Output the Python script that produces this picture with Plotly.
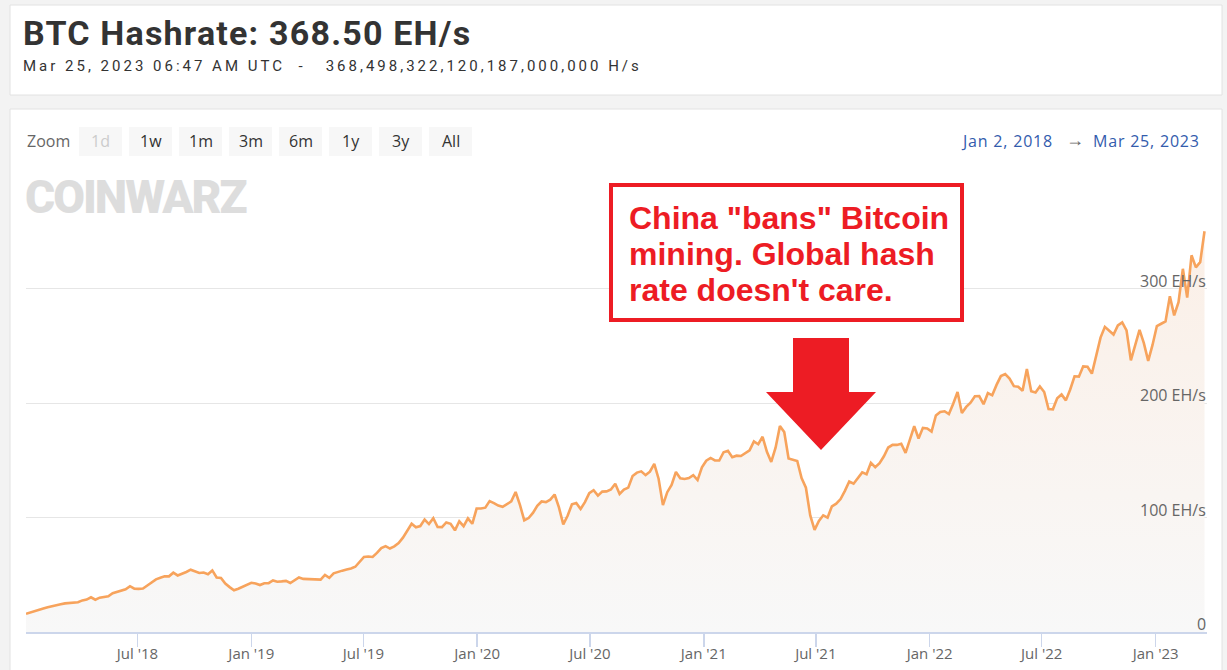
import plotly.graph_objects as go
import pandas as pd

# ---------------- data ----------------
start_date = "2018-01-02"
end_date = "2023-03-25"

# weekly BTC hash rate, EH/s
hashrate_ehs = [
    15.9, 17.1, 18.8, 19.9, 20.6, 21.7, 22.7, 23.5, 24.2, 25.0,
    25.4, 25.6, 26.0, 27.6, 28.3, 30.3, 28.2, 30.0, 30.7, 31.2,
    33.8, 35.1, 36.3, 37.3, 40.0, 37.8, 37.7, 38.0, 40.6, 43.5,
    46.0, 47.4, 48.6, 48.6, 51.8, 49.4, 50.7, 52.4, 54.4, 53.0,
    51.5, 52.0, 50.5, 53.8, 47.6, 47.1, 42.3, 39.2, 36.5, 37.8,
    39.5, 41.2, 43.0, 42.4, 41.0, 42.6, 42.7, 45.0, 43.9, 44.2,
    44.6, 42.8, 45.2, 47.6, 46.4, 46.1, 46.0, 45.8, 45.7, 49.8,
    47.3, 51.2, 52.7, 53.6, 54.5, 55.4, 57.0, 61.6, 65.6, 65.9,
    65.5, 69.1, 73.2, 75.0, 72.9, 74.8, 77.7, 82.4, 88.7, 94.5,
    91.4, 92.5, 98.2, 94.3, 99.4, 91.7, 91.6, 95.7, 94.5, 88.8,
    96.7, 92.4, 99.2, 94.5, 107.8, 107.8, 108.6, 114.3, 112.5, 110.4,
    109.3, 111.5, 114.1, 122.3, 111.0, 97.5, 99.5, 104.0, 110.2, 114.0,
    113.5, 115.6, 120.1, 108.8, 94.0, 101.5, 111.5, 112.7, 107.4, 113.4,
    121.3, 123.8, 119.1, 122.6, 122.8, 124.4, 129.5, 120.5, 124.4, 126.1,
    136.2, 139.2, 140.3, 137.0, 140.0, 146.9, 133.9, 110.8, 122.1, 128.5,
    139.7, 134.2, 133.6, 134.4, 137.0, 132.7, 143.8, 149.6, 152.0, 149.8,
    149.8, 157.0, 158.2, 152.6, 154.0, 153.7, 156.0, 158.7, 166.5, 164.0,
    170.5, 157.4, 148.5, 161.0, 179.8, 174.6, 151.5, 150.7, 149.4, 134.5,
    126.0, 101.8, 89.2, 97.0, 101.9, 99.9, 109.8, 112.1, 116.1, 123.3,
    131.4, 129.5, 134.0, 139.4, 137.8, 147.7, 144.0, 147.5, 153.5, 161.1,
    163.4, 163.4, 164.4, 156.4, 168.0, 179.7, 169.0, 178.3, 177.8, 175.1,
    189.1, 192.2, 192.8, 190.3, 199.3, 209.6, 191.2, 196.6, 200.3, 205.9,
    206.1, 199.0, 208.6, 206.7, 215.8, 223.5, 225.2, 221.4, 214.7, 214.2,
    210.7, 229.8, 210.2, 209.1, 214.4, 209.6, 194.7, 194.5, 204.2, 207.5,
    202.3, 211.8, 223.3, 223.0, 232.0, 231.7, 225.6, 241.0, 257.1, 266.5,
    263.5, 259.8, 267.8, 270.4, 263.4, 237.3, 250.5, 263.8, 252.3, 236.8,
    250.7, 267.2, 269.2, 271.2, 293.3, 276.5, 288.0, 317.2, 292.0, 329.0,
    318.4, 323.0, 350.0,
]

y_tick_vals = [0, 100, 200, 300, 400]
y_tick_text = ["0", "100 EH/s", "200 EH/s", "300 EH/s", ""]
zoom_buttons = ["1d", "1w", "1m", "3m", "6m", "1y", "3y", "All"]
disabled_buttons = ["1d"]
title_text = "BTC Hashrate: 368.50 EH/s"
subtitle_time = "Mar 25, 2023 06:47 AM UTC"
subtitle_value = "368,498,322,120,187,000,000 H/s"
range_from = "Jan 2, 2018"
range_to = "Mar 25, 2023"
note_lines = ['China "bans" Bitcoin', "mining. Global hash", "rate doesn't care."]
logo_text = "COINWARZ"

dates = pd.date_range(start_date, periods=len(hashrate_ehs), freq="7D")

# ---------------- layout helpers (pixel -> paper) ----------------
W, H = 1227, 670
L, R, T, B = 26, 1207, 174, 632


def px(x):
    return (x - L) / (R - L)


def py(y):
    return (B - y) / (B - T)


RED = "#ed1c24"

fig = go.Figure(
    go.Scatter(
        x=dates,
        y=hashrate_ehs,
        mode="lines",
        line=dict(color="#f7a35c", width=2.6),
        fill="tozeroy",
        fillgradient=dict(
            type="vertical",
            colorscale=[[0, "#f8f8f8"], [1, "#fbefe6"]],
            start=0,
            stop=360,
        ),
        hoverinfo="skip",
        showlegend=False,
    )
)

shapes = []
# cards
shapes.append(dict(type="rect", xref="paper", yref="paper", x0=px(10), x1=px(1222),
                   y0=py(95), y1=py(5), fillcolor="white",
                   line=dict(color="#e2e2e2", width=1), layer="below"))
shapes.append(dict(type="rect", xref="paper", yref="paper", x0=px(10), x1=px(1222),
                   y0=py(720), y1=py(109), fillcolor="white",
                   line=dict(color="#e2e2e2", width=1), layer="below"))
# range selector buttons
for i, b in enumerate(zoom_buttons):
    x0 = 79 + 50 * i
    shapes.append(dict(type="rect", xref="paper", yref="paper", x0=px(x0), x1=px(x0 + 43),
                       y0=py(156), y1=py(127), fillcolor="#f7f7f7",
                       line=dict(width=0), layer="below"))
# note box
shapes.append(dict(type="rect", xref="paper", yref="paper", x0=px(611), x1=px(962),
                   y0=py(320), y1=py(185), fillcolor="white",
                   line=dict(color=RED, width=4), layer="above"))
# red arrow
arrow_pts = [(793, 338), (849, 338), (849, 392), (876, 392), (821, 450), (766, 392), (793, 392)]
path = "M " + " L ".join(f"{px(a):.5f},{py(b):.5f}" for a, b in arrow_pts) + " Z"
shapes.append(dict(type="path", xref="paper", yref="paper", path=path,
                   fillcolor=RED, line=dict(width=0), layer="above"))


def label(x, y, text, size, color, family="Open Sans", xanchor="left", weight=400):
    fig.add_annotation(x=px(x), y=py(y), xref="paper", yref="paper", text=text,
                       showarrow=False, xanchor=xanchor, yanchor="middle",
                       font=dict(family=family, size=size, color=color, weight=weight))


def spaced(text, sp):
    return f'<span style="letter-spacing:{sp}px">{text}</span>'


label(21, 33, spaced(title_text, 1.2), 34, "#333333", "Roboto", weight=700)
label(21, 66, spaced(f"{subtitle_time}  -   {subtitle_value}", 3), 15, "#333333",
      "Roboto", weight=400)

label(25, 141, "Zoom", 16, "#666666")
for i, b in enumerate(zoom_buttons):
    x0 = 79 + 50 * i
    label(x0 + 21.5, 141, b, 16, "#cccccc" if b in disabled_buttons else "#333333",
          xanchor="center")
label(1055, 141, spaced(range_from, 0.8), 16, "#335cad", xanchor="right")
label(1075, 139, "→", 18, "#666666", xanchor="center")
label(1202, 141, spaced(range_to, 0.8), 16, "#335cad", xanchor="right")

label(23, 197, spaced(logo_text, -2), 46, "#dddddd", "Roboto", weight=900)

for k, line in enumerate(note_lines):
    label(627, 218 + 36 * k, line, 32, RED, "Liberation Sans", weight=700)

# y-axis labels, placed inside the plot on the right, just above each gridline
for v, t in zip(y_tick_vals, y_tick_text):
    if t:
        fig.add_annotation(x=1, y=v, xref="paper", yref="y", text=t, showarrow=False,
                           xanchor="right", yanchor="middle", yshift=8, xshift=1,
                           font=dict(family="Open Sans", size=16, color="#666666"))

fig.update_layout(
    width=W, height=H, autosize=False,
    margin=dict(l=L, r=W - R, t=T, b=H - B, pad=0),
    paper_bgcolor="#f3f3f3",
    plot_bgcolor="white",
    shapes=shapes,
    hovermode=False,
    xaxis=dict(
        type="date", range=[start_date, end_date],
        tick0="2018-01-01", dtick="M6", tickformat="%b '%y",
        showgrid=False, zeroline=False, automargin=False,
        showline=True, linecolor="#ccd6eb", linewidth=1.5,
        ticks="outside", ticklen=13, tickwidth=1.5, tickcolor="#ccd6eb",
        ticklabelstandoff=-6,
        tickfont=dict(family="Open Sans", size=15, color="#666666"),
        fixedrange=True,
    ),
    yaxis=dict(
        range=[0, 400], tickvals=y_tick_vals, showticklabels=False,
        side="right", automargin=False,
        showgrid=True, gridcolor="#e6e6e6", gridwidth=1,
        zeroline=False, showline=False, ticks="",
        fixedrange=True,
    ),
)

fig.write_html(
    "out.html",
    config={"displayModeBar": False, "staticPlot": True},
    post_script="document.body.style.margin='0';document.body.style.overflow='hidden';",
)
